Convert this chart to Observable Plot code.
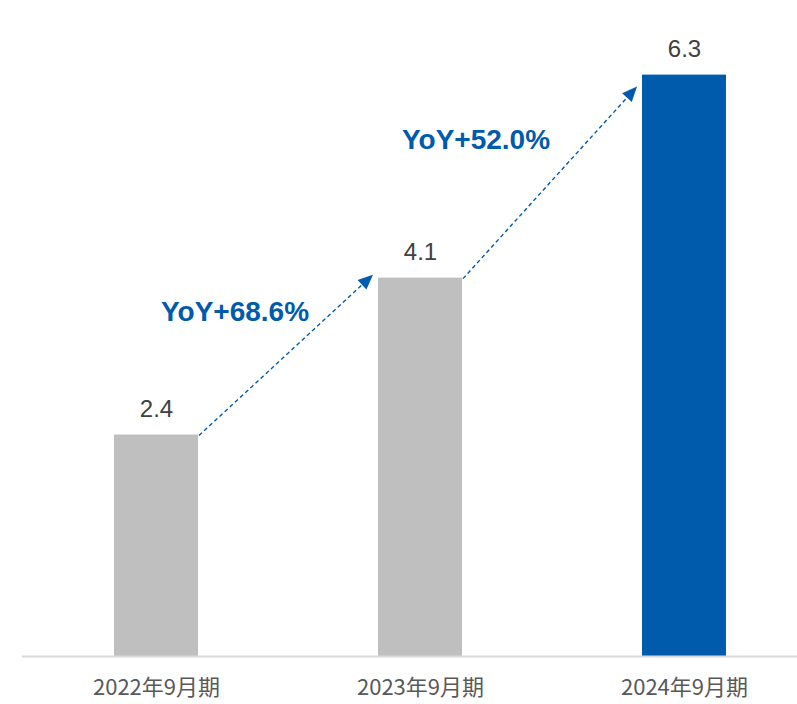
<!DOCTYPE html>
<html>
<head>
<meta charset="utf-8">
<script src="https://cdn.jsdelivr.net/npm/d3@7"></script>
<script src="https://cdn.jsdelivr.net/npm/@observablehq/plot@0.6"></script>
<style>
  html, body { margin: 0; padding: 0; background: #fff; }
  #chart svg { display: block; }
</style>
</head>
<body>
<div id="chart"></div>
<script>
const categories = ["2022年9月期", "2023年9月期", "2024年9月期"];
const values = [2.4, 4.1, 6.3];
const growthLabels = ["YoY+68.6%", "YoY+52.0%"];

const GRAY = "#BFBFBF";
const BLUE = "#005BAC";
const data = categories.map((c, i) => ({category: c, value: values[i], highlight: i === categories.length - 1}));

// per-arrow tweaks (style only)
const arrowEndDy = [-3, 12];
const labelDx = [-51, -74];
const labelDy = [-44, -43];

const arrows = (index, scales) => {
  const x = scales.x, y = scales.y;
  const bw = typeof x.bandwidth === "function" ? x.bandwidth() : scales.scales.x.bandwidth;
  const g = d3.create("svg:g");
  for (let i = 0; i < categories.length - 1; i++) {
    const x1 = x(categories[i]) + bw + 1;
    const y1 = y(values[i]) + 1;
    const x2 = x(categories[i + 1]) - 5;
    const y2 = y(values[i + 1]) + arrowEndDy[i];
    const ang = Math.atan2(y2 - y1, x2 - x1);
    const headLen = 15, headW = 6.5;
    const bx = x2 - headLen * Math.cos(ang), by = y2 - headLen * Math.sin(ang);
    g.append("line")
      .attr("x1", x1).attr("y1", y1).attr("x2", bx).attr("y2", by)
      .attr("stroke", BLUE).attr("stroke-width", 1.4)
      .attr("stroke-dasharray", "4,3");
    const px = -Math.sin(ang), py = Math.cos(ang);
    g.append("path")
      .attr("d", `M${x2},${y2}L${bx + px * headW},${by + py * headW}L${bx - px * headW},${by - py * headW}Z`)
      .attr("fill", BLUE);
    g.append("text")
      .attr("x", (x1 + x2) / 2 + labelDx[i])
      .attr("y", (y1 + y2) / 2 + labelDy[i])
      .attr("text-anchor", "middle")
      .attr("dominant-baseline", "central")
      .attr("font-family", "'Liberation Sans', Arial, sans-serif")
      .attr("font-weight", "bold")
      .attr("font-size", 28)
      .attr("fill", BLUE)
      .text(growthLabels[i]);
  }
  return g.node();
};

const chart = Plot.plot({
  width: 797,
  height: 704,
  marginTop: 10,
  marginBottom: 48,
  marginLeft: 22,
  marginRight: 0,
  style: {background: "#fff", overflow: "visible"},
  x: {domain: categories, paddingInner: 0.683, paddingOuter: 0.304, align: 0.565, label: null},
  y: {domain: [0, 7], axis: null},
  marks: [
    Plot.barY(data, {x: "category", y: "value", fill: d => d.highlight ? BLUE : GRAY}),
    Plot.ruleY([0], {stroke: "#D9D9D9", strokeWidth: 2}),
    Plot.text(data, {
      x: "category", y: "value", text: d => d.value.toFixed(1),
      dy: -26, fontSize: 24, fill: "#404040",
      fontFamily: "'Liberation Sans', Arial, sans-serif"
    }),
    Plot.axisX({
      tickSize: 0, tickPadding: 23, fontSize: 22,
      fontFamily: "'Noto Sans CJK JP', sans-serif",
      color: "#595959", label: null
    }),
    arrows
  ]
});
document.getElementById("chart").appendChild(chart);
</script>
</body>
</html>
